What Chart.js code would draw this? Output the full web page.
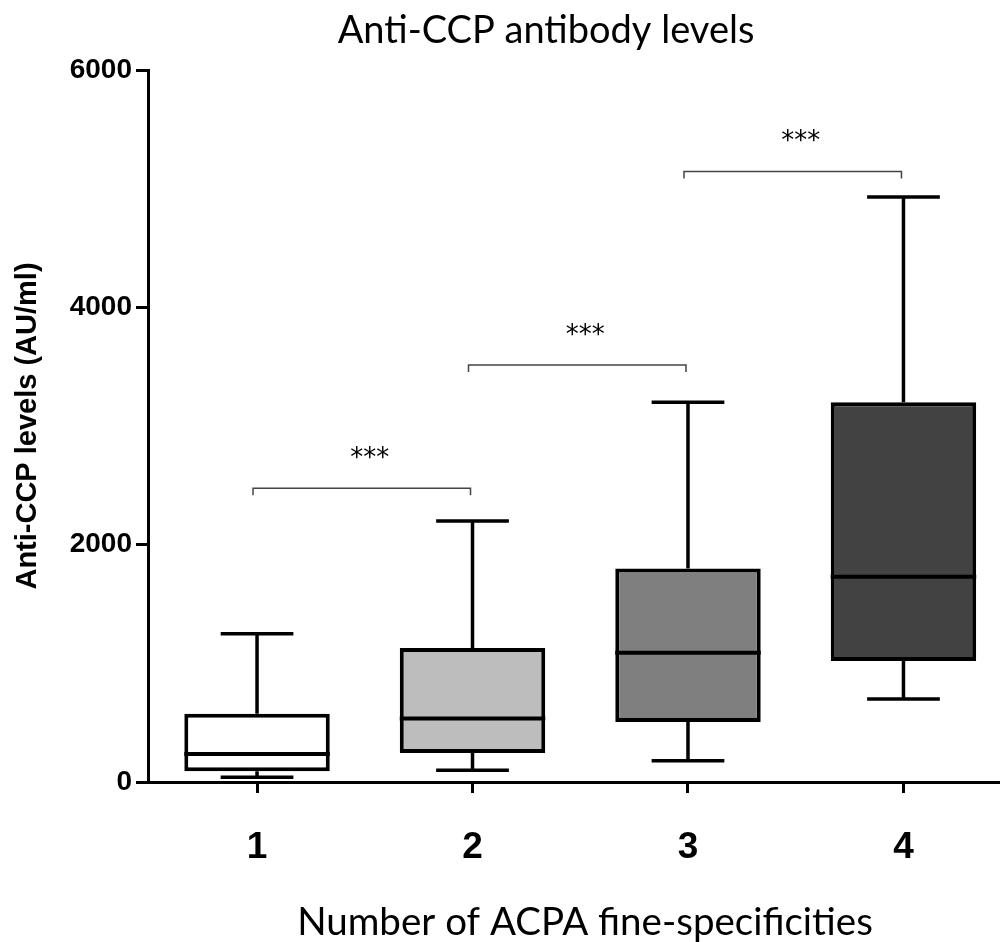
<!DOCTYPE html>
<html>
<head>
<meta charset="utf-8">
<title>Anti-CCP antibody levels</title>
<script src="https://cdn.jsdelivr.net/npm/chart.js@4.4.1/dist/chart.umd.min.js"></script>
<style>
  html, body { margin: 0; padding: 0; background: #fff; }
</style>
</head>
<body>
<canvas id="box-chart" width="1000" height="942"></canvas>
<script>
// Number of ACPA fine-specificities (x categories)
const groups = [1, 2, 3, 4];

// Box plot summary per group, AU/ml
const whiskerMin = [40, 100, 180, 700];
const q1 = [90, 245, 505, 1020];
const medians = [235, 535, 1090, 1730];
const q3 = [575, 1130, 1800, 3200];
const whiskerMax = [1250, 2200, 3200, 4930];

// Tick labels
const xTicks = [1, 2, 3, 4];
const yTicks = [0, 2000, 4000, 6000];

// Significance brackets between neighbouring groups
const bracketFrom = [1, 2, 3];
const bracketTo = [2, 3, 4];
const bracketLevel = [2475, 3515, 5145];
const bracketLabel = ['***', '***', '***'];

const boxFills = ['#ffffff', '#bdbdbd', '#7f7f7f', '#424242'];

// Whiskers, caps and median lines drawn on top of the floating bars
const boxPlotPlugin = {
    id: 'boxPlot',
    afterDatasetsDraw(chart) {
        const ctx = chart.ctx;
        const xs = chart.scales.x;
        const ys = chart.scales.y;
        const meta = chart.getDatasetMeta(0);
        ctx.save();
        ctx.strokeStyle = '#000';
        meta.data.forEach((bar, i) => {
            const cx = xs.getPixelForValue(groups[i]);
            const half = bar.width / 2;
            const cap = bar.width / 4;
            const yMin = ys.getPixelForValue(whiskerMin[i]);
            const yMax = ys.getPixelForValue(whiskerMax[i]);

            ctx.lineWidth = 3.5;
            ctx.beginPath();
            ctx.moveTo(cx, ys.getPixelForValue(q3[i]));
            ctx.lineTo(cx, yMax);
            ctx.moveTo(cx, ys.getPixelForValue(q1[i]));
            ctx.lineTo(cx, yMin);
            ctx.moveTo(cx - cap, yMax);
            ctx.lineTo(cx + cap, yMax);
            ctx.moveTo(cx - cap, yMin);
            ctx.lineTo(cx + cap, yMin);
            ctx.stroke();

            // median
            ctx.lineWidth = 4;
            const ym = ys.getPixelForValue(medians[i]);
            ctx.beginPath();
            ctx.moveTo(cx - half, ym);
            ctx.lineTo(cx + half, ym);
            ctx.stroke();
        });
        ctx.restore();
    }
};

// Brackets with significance stars, chart title and x axis title
const annotationPlugin = {
    id: 'annotations',
    afterDraw(chart) {
        const ctx = chart.ctx;
        const xs = chart.scales.x;
        const ys = chart.scales.y;
        ctx.save();
        ctx.strokeStyle = '#444';
        ctx.lineWidth = 1.5;
        ctx.fillStyle = '#000';
        ctx.font = '26px "DejaVu Sans"';
        ctx.textAlign = 'center';
        ctx.textBaseline = 'alphabetic';
        bracketLevel.forEach((level, i) => {
            const x0 = xs.getPixelForValue(bracketFrom[i]) - 4;
            const x1 = xs.getPixelForValue(bracketTo[i]) - 2;
            const yb = ys.getPixelForValue(level);
            ctx.beginPath();
            ctx.moveTo(x0, yb + 7);
            ctx.lineTo(x0, yb);
            ctx.lineTo(x1, yb);
            ctx.lineTo(x1, yb + 7);
            ctx.stroke();
            ctx.fillText(bracketLabel[i], (x0 + x1) / 2 + 8, yb - 22);
        });

        ctx.font = '38px Lato';
        ctx.fillText('Anti-CCP antibody levels', 546, 43);
        ctx.font = '38.5px Lato';
        ctx.fillText('Number of ACPA fine-specificities', 585, 935);
        ctx.restore();
    }
};

new Chart(document.getElementById('box-chart'), {
    type: 'bar',
    data: {
        datasets: [{
            data: groups.map((g, i) => ({ x: g, y: [q1[i], q3[i]] })),
            backgroundColor: boxFills,
            borderColor: '#000',
            borderWidth: 4,
            borderSkipped: false,
            barPercentage: 0.675,
            categoryPercentage: 1
        }]
    },
    options: {
        responsive: false,
        animation: false,
        layout: { padding: { top: 70, left: 0, right: 0, bottom: 0 } },
        plugins: {
            legend: { display: false },
            tooltip: { enabled: false },
            title: { display: false }
        },
        scales: {
            x: {
                type: 'linear',
                min: 0.494,
                max: 4.448,
                offset: false,
                afterBuildTicks: scale => { scale.ticks = xTicks.map(v => ({ value: v })); },
                afterFit: scale => { scale.height = 160; },
                border: { display: true, width: 3, color: '#000' },
                grid: { offset: false, drawOnChartArea: false, drawTicks: true, tickLength: 11, tickWidth: 3, tickColor: '#000' },
                ticks: {
                    autoSkip: false,
                    maxRotation: 0,
                    padding: 33,
                    color: '#000',
                    font: { family: 'Liberation Sans', size: 37, weight: 'bold' },
                    callback: v => String(v)
                }
            },
            y: {
                min: 0,
                max: 6000,
                afterBuildTicks: scale => { scale.ticks = yTicks.map(v => ({ value: v })); },
                afterFit: scale => { scale.width = 148; },
                border: { display: true, width: 3, color: '#000' },
                grid: { drawOnChartArea: false, drawTicks: true, tickLength: 12, tickWidth: 3, tickColor: '#000' },
                ticks: {
                    padding: 4,
                    color: '#000',
                    font: { family: 'Liberation Sans', size: 28, weight: 'bold' },
                    callback: v => String(v)
                },
                title: {
                    display: true,
                    text: 'Anti-CCP levels (AU/ml)',
                    color: '#000',
                    font: { family: 'Liberation Sans', size: 29, weight: 'bold' },
                    padding: { top: 11, bottom: 0 }
                }
            }
        }
    },
    plugins: [boxPlotPlugin, annotationPlugin]
});
</script>
</body>
</html>
